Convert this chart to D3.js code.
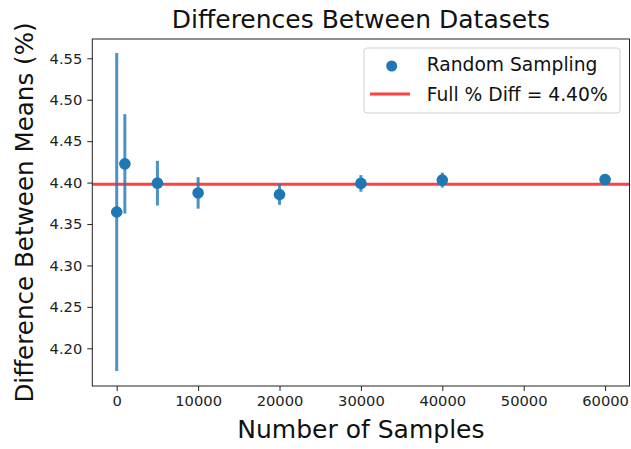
<!DOCTYPE html>
<html>
<head>
<meta charset="utf-8">
<script src="https://cdn.jsdelivr.net/npm/d3@7"></script>
<style>
  body { margin: 0; background: #fff; }
  text { font-family: "DejaVu Sans", sans-serif; }
</style>
</head>
<body>
<div id="chart"></div>
<script>
// sample sizes and the measured mean difference with its error
var samples = [0, 1000, 5000, 10000, 20000, 30000, 40000, 60000];
var means = [4.3645, 4.4226, 4.3993, 4.3875, 4.3856, 4.3990, 4.4030, 4.4037];
var errors = [0.192, 0.060, 0.027, 0.019, 0.0125, 0.010, 0.009, 0.006];
var fullDiff = 4.398;
var xTicks = [0, 10000, 20000, 30000, 40000, 50000, 60000];
var yTicks = [4.20, 4.25, 4.30, 4.35, 4.40, 4.45, 4.50, 4.55];
var legendLabels = ["Random Sampling", "Full % Diff = 4.40%"];

var W = 631, H = 449;
var padL = 92.3, padR = 629.5, padT = 39, padB = 386;
var blue = "#1f77b4";

var svg = d3.select("#chart").append("svg")
    .attr("width", W).attr("height", H);

var x = d3.scaleLinear().domain([-3000, 63000]).range([padL, padR]);
var y = d3.scaleLinear().domain([4.1545, 4.5733]).range([padB, padT]);

// axes
var xAxis = svg.append("g")
    .attr("transform", "translate(0," + padB + ")")
    .call(d3.axisBottom(x).tickValues(xTicks).tickFormat(d3.format("d")).tickSize(5).tickPadding(5));
var yAxis = svg.append("g")
    .attr("transform", "translate(" + padL + ",0)")
    .call(d3.axisLeft(y).tickValues(yTicks).tickFormat(d3.format(".2f")).tickSize(5).tickPadding(5));
[xAxis, yAxis].forEach(function(a){
    a.select(".domain").remove();
    a.selectAll("text").style("font-size", "14.7px").attr("fill", "#222")
        .style("font-family", "DejaVu Sans, sans-serif");
    a.selectAll("line").attr("stroke", "#222");
});

// full diff reference line
svg.append("line")
    .attr("x1", padL).attr("x2", padR)
    .attr("y1", y(fullDiff)).attr("y2", y(fullDiff))
    .attr("stroke", "red").attr("stroke-opacity", 0.75).attr("stroke-width", 2.8);

// error bars
svg.append("g").selectAll("line").data(samples).join("line")
    .attr("x1", function(d){ return x(d); })
    .attr("x2", function(d){ return x(d); })
    .attr("y1", function(d, i){ return y(means[i] - errors[i]); })
    .attr("y2", function(d, i){ return y(means[i] + errors[i]); })
    .attr("stroke", blue).attr("stroke-opacity", 0.8).attr("stroke-width", 3);

// points
svg.append("g").selectAll("circle").data(samples).join("circle")
    .attr("cx", function(d){ return x(d); })
    .attr("cy", function(d, i){ return y(means[i]); })
    .attr("r", 5.8).attr("fill", blue);

// frame
svg.append("rect")
    .attr("x", padL).attr("y", padT)
    .attr("width", padR - padL).attr("height", padB - padT)
    .attr("fill", "none").attr("stroke", "#222").attr("stroke-width", 1);

// titles
svg.append("text").attr("x", (padL + padR) / 2).attr("y", 28)
    .attr("text-anchor", "middle").style("font-size", "25px").attr("fill", "#111")
    .text("Differences Between Datasets");
svg.append("text").attr("x", (padL + padR) / 2).attr("y", 438)
    .attr("text-anchor", "middle").style("font-size", "25px").attr("fill", "#111")
    .text("Number of Samples");
svg.append("text")
    .attr("transform", "translate(33," + ((padT + padB) / 2) + ") rotate(-90)")
    .attr("text-anchor", "middle").style("font-size", "24.6px").attr("fill", "#111")
    .text("Difference Between Means (%)");

// legend
var lg = svg.append("g");
lg.append("rect").attr("x", 364).attr("y", 48).attr("width", 256).attr("height", 65)
    .attr("rx", 3).attr("fill", "#fff").attr("fill-opacity", 0.8)
    .attr("stroke", "#d0d0d0");
lg.append("circle").attr("cx", 391.7).attr("cy", 66).attr("r", 5.5).attr("fill", blue);
lg.append("line").attr("x1", 370).attr("x2", 410).attr("y1", 94).attr("y2", 94)
    .attr("stroke", "red").attr("stroke-opacity", 0.75).attr("stroke-width", 2.8);
lg.selectAll("text").data(legendLabels).join("text")
    .attr("x", 426.7)
    .attr("y", function(d, i){ return 71 + i * 30; })
    .style("font-size", "18.7px").attr("fill", "#111")
    .text(function(d){ return d; });
</script>
</body>
</html>
